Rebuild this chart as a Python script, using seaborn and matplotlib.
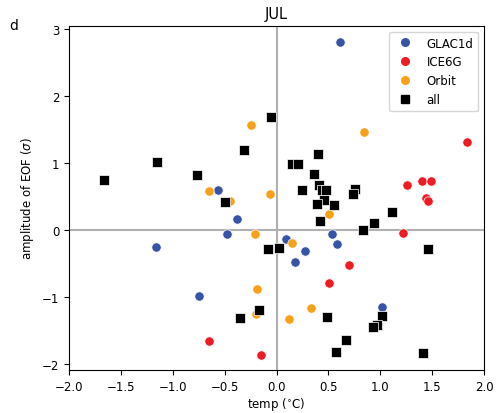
import matplotlib
matplotlib.use("Agg")
import matplotlib.pyplot as plt
from matplotlib.lines import Line2D
import seaborn as sns
import pandas as pd

glac_x = [0.615, -0.56, -0.38, -0.48, -1.165, -0.75, 0.09, 0.27, 0.18, 0.53, 0.58, 1.02]
glac_y = [2.81, 0.60, 0.17, -0.06, -0.26, -0.98, -0.13, -0.31, -0.48, -0.055, -0.21, -1.15]

ice_x = [1.84, 1.255, 1.40, 1.49, 1.44, 1.46, 1.22, 0.70, 0.505, -0.65, -0.145]
ice_y = [1.31, 0.68, 0.73, 0.74, 0.48, 0.43, -0.04, -0.52, -0.79, -1.66, -1.86]

orb_x = [-0.25, -0.65, -0.06, -0.45, 0.845, -0.21, -0.19, -0.20, 0.15, 0.505, 0.33, 0.125]
orb_y = [1.57, 0.59, 0.54, 0.43, 1.46, -0.055, -0.88, -1.26, -0.19, 0.24, -1.17, -1.33]

all_x = [-1.66, -1.155, -0.765, -0.31, -0.05, -0.50, -0.085, 0.02, -0.165, -0.355,
         0.49, 1.02, 0.97, 0.93, 0.665, 0.575, 1.41, 1.455, 0.83, 0.935,
         1.115, 0.42, 0.40, 0.15, 0.21, 0.36, 0.25, 0.405, 0.44, 0.48,
         0.76, 0.74, 0.455, 0.39, 0.55]
all_y = [0.75, 1.02, 0.83, 1.19, 1.69, 0.42, -0.29, -0.27, -1.19, -1.31,
         -1.30, -1.29, -1.415, -1.445, -1.64, -1.82, -1.84, -0.28, 0.0, 0.11,
         0.27, 0.135, 1.14, 0.99, 0.98, 0.84, 0.60, 0.67, 0.60, 0.60,
         0.62, 0.54, 0.45, 0.39, 0.37]

series = [("GLAC1d", glac_x, glac_y, "#3953a4", "o"),
          ("ICE6G", ice_x, ice_y, "#ed1c24", "o"),
          ("Orbit", orb_x, orb_y, "#f7a11a", "o"),
          ("all", all_x, all_y, "black", "s")]

plt.rcParams["font.size"] = 8.5

fig = plt.figure(figsize=(4.96, 4.14), dpi=100)
ax = fig.add_axes([0.139, 0.104, 0.837, 0.831])

ax.axhline(0, color="#b0b0b0", lw=1.5, zorder=0)
ax.axvline(0, color="#b0b0b0", lw=1.5, zorder=0)

handles = []
for name, xs, ys, col, mk in series:
    df = pd.DataFrame({"x": xs, "y": ys})
    sns.scatterplot(data=df, x="x", y="y", color=col, marker=mk,
                    s=50 if mk == "s" else 45, ax=ax, legend=False,
                    edgecolor="white", linewidth=0.5, zorder=3)
    handles.append(Line2D([], [], color=col, marker=mk, linestyle="none",
                          markersize=5.5, label=name))

ax.set_xlim(-2, 2)
ax.set_ylim(-2.09, 3.05)
ax.set_xticks([-2.0, -1.5, -1.0, -0.5, 0.0, 0.5, 1.0, 1.5, 2.0])
ax.set_yticks([-2, -1, 0, 1, 2, 3])
ax.set_xlabel("temp ($^{\\circ}$C)", labelpad=1.5)
ax.set_ylabel("amplitude of EOF ($\\sigma$)")
ax.set_title("JUL", fontsize=10.5)
ax.legend(handles=handles, loc="upper right")
fig.text(0.018, 0.928, "d", fontsize=10)

fig.savefig("out.png", dpi=100)
